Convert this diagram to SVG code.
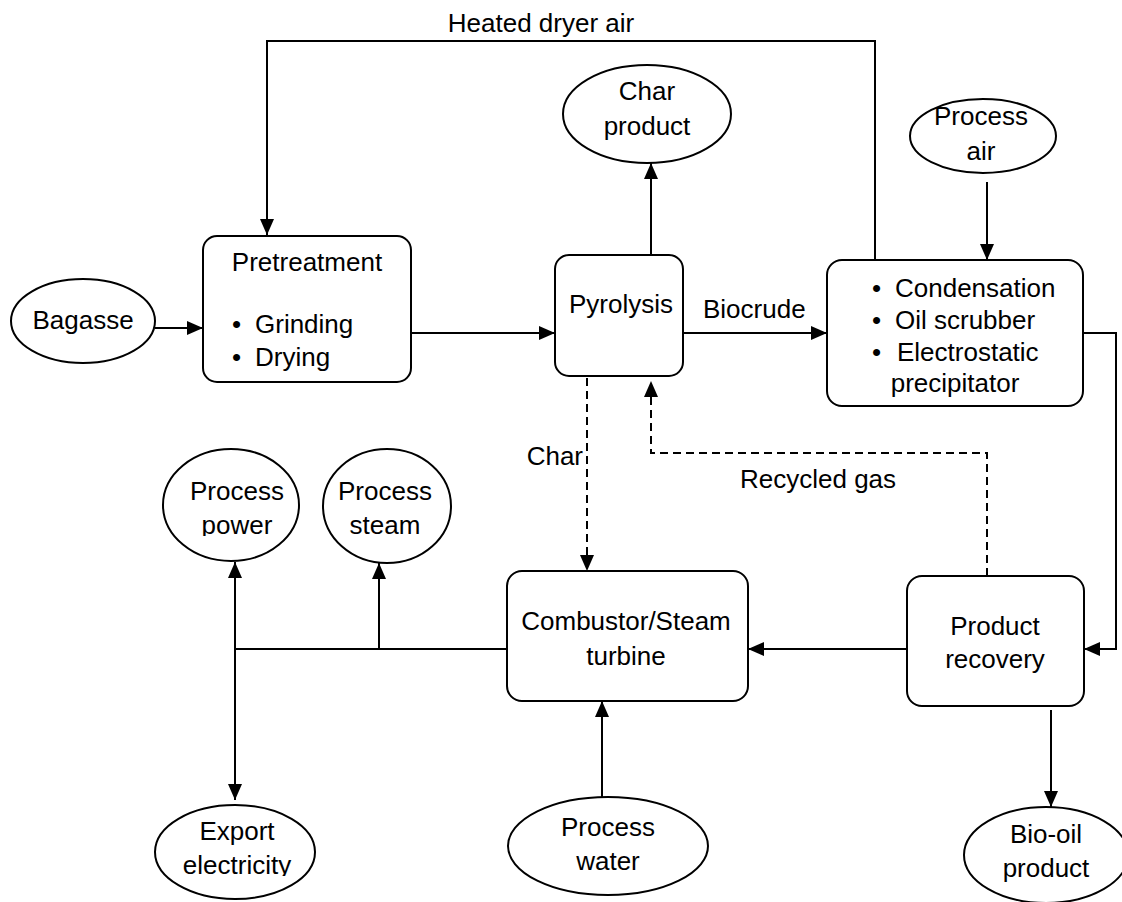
<svg xmlns="http://www.w3.org/2000/svg" width="1122" height="902" viewBox="0 0 1122 902">
<defs>
<marker id="arr" viewBox="0 0 16 14" refX="16" refY="7" markerWidth="16" markerHeight="14" markerUnits="userSpaceOnUse" orient="auto"><path d="M0,0 L16,7 L0,14 Z" fill="#000"/></marker>
<clipPath id="clipPower"><rect x="150" y="440" width="170" height="96"/></clipPath>
<clipPath id="clipElec"><rect x="150" y="800" width="180" height="76"/></clipPath>
</defs>
<style>
.box{fill:#fff;stroke:#000;stroke-width:2}
.t{font-family:"Liberation Sans",Arial,sans-serif;font-size:26px;fill:#000}
.m{text-anchor:middle}
.ln{fill:none;stroke:#000;stroke-width:2}
.dash{stroke-dasharray:8 5}
</style>
<rect x="0" y="0" width="1122" height="902" fill="#fff"/>

<g id="connectors">
<path class="ln" d="M875,260 V41 H267 V235" marker-end="url(#arr)"/>
<path class="ln" d="M155,328 H203" marker-end="url(#arr)"/>
<path class="ln" d="M411,333 H555" marker-end="url(#arr)"/>
<path class="ln" d="M651,255 V163" marker-end="url(#arr)"/>
<path class="ln" d="M683,333 H827" marker-end="url(#arr)"/>
<path class="ln" d="M987,182 V260" marker-end="url(#arr)"/>
<path class="ln" d="M1083,333 H1116 V649 H1084" marker-end="url(#arr)"/>
<path class="ln" d="M907,649 H748" marker-end="url(#arr)"/>
<path class="ln" d="M1051,710 V807" marker-end="url(#arr)"/>
<path class="ln dash" d="M987,576 V453 H651 V381" marker-end="url(#arr)"/>
<path class="ln dash" d="M587,378 V571" marker-end="url(#arr)"/>
<path class="ln" d="M602,797 V701" marker-end="url(#arr)"/>
<path class="ln" d="M507,649 H235"/>
<path class="ln" d="M235,649 V562" marker-end="url(#arr)"/>
<path class="ln" d="M235,649 V800" marker-end="url(#arr)"/>
<path class="ln" d="M379,649 V563" marker-end="url(#arr)"/>
<text class="t m" x="541" y="32">Heated dryer air</text>
<text class="t" x="703" y="318">Biocrude</text>
<text class="t" x="583" y="465" text-anchor="end">Char</text>
<text class="t" x="740" y="488">Recycled gas</text>
</g>

<g id="bagasse">
<ellipse class="box" cx="83" cy="321" rx="72" ry="42"/>
<text class="t m" x="83" y="329">Bagasse</text>
</g>

<g id="pretreatment">
<rect class="box" x="203" y="236" width="208" height="146" rx="14"/>
<text class="t m" x="307" y="271">Pretreatment</text>
<text class="t" x="232" y="333">•</text>
<text class="t" x="255" y="333">Grinding</text>
<text class="t" x="232" y="366">•</text>
<text class="t" x="255" y="366">Drying</text>
</g>

<g id="pyrolysis">
<rect class="box" x="555" y="255" width="128" height="121" rx="14"/>
<text class="t m" x="621" y="313">Pyrolysis</text>
</g>

<g id="char-product">
<ellipse class="box" cx="647" cy="114" rx="84" ry="49"/>
<text class="t m" x="647" y="100">Char</text>
<text class="t m" x="647" y="135">product</text>
</g>

<g id="process-air">
<ellipse class="box" cx="983" cy="136" rx="73" ry="37"/>
<text class="t m" x="981" y="125">Process</text>
<text class="t m" x="981" y="160">air</text>
</g>

<g id="condensation">
<rect class="box" x="827" y="260" width="256" height="146" rx="15"/>
<text class="t" x="872" y="297">•</text>
<text class="t" x="895" y="297">Condensation</text>
<text class="t" x="872" y="329">•</text>
<text class="t" x="895" y="329">Oil scrubber</text>
<text class="t" x="872" y="361">•</text>
<text class="t" x="897" y="361">Electrostatic</text>
<text class="t m" x="955" y="392">precipitator</text>
</g>

<g id="process-power">
<ellipse class="box" cx="231" cy="505" rx="68" ry="56"/>
<text class="t m" x="237" y="500">Process</text>
<text class="t m" x="237" y="534" clip-path="url(#clipPower)">power</text>
</g>

<g id="process-steam">
<ellipse class="box" cx="387" cy="506" rx="64" ry="57"/>
<text class="t m" x="385" y="500">Process</text>
<text class="t m" x="385" y="534">steam</text>
</g>

<g id="combustor">
<rect class="box" x="507" y="571" width="241" height="130" rx="15"/>
<text class="t m" x="626" y="630">Combustor/Steam</text>
<text class="t m" x="626" y="665">turbine</text>
</g>

<g id="product-recovery">
<rect class="box" x="907" y="576" width="177" height="130" rx="15"/>
<text class="t m" x="995" y="635">Product</text>
<text class="t m" x="995" y="668">recovery</text>
</g>

<g id="export-electricity">
<ellipse class="box" cx="235" cy="852" rx="80" ry="47"/>
<text class="t m" x="237" y="840">Export</text>
<text class="t m" x="237" y="874" clip-path="url(#clipElec)">electricity</text>
</g>

<g id="process-water">
<ellipse class="box" cx="608" cy="846" rx="100" ry="49"/>
<text class="t m" x="608" y="836">Process</text>
<text class="t m" x="608" y="870">water</text>
</g>

<g id="bio-oil">
<ellipse class="box" cx="1046" cy="855" rx="82" ry="48"/>
<text class="t m" x="1046" y="843">Bio-oil</text>
<text class="t m" x="1046" y="877">product</text>
</g>
</svg>
